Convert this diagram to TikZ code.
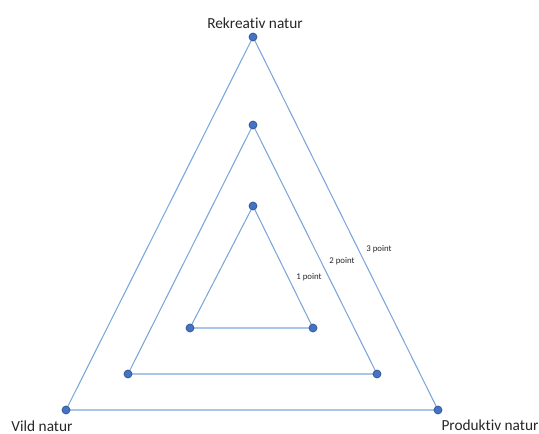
\documentclass[tikz,border=0pt]{standalone}
\usepackage{fontspec}
\setmainfont{Carlito}[Ligatures={NoCommon,NoRare,NoDiscretionary}]
\definecolor{edgeblue}{HTML}{7DA7D9}
\definecolor{dotfill}{HTML}{4472C4}
\definecolor{dotline}{HTML}{2F528F}
\begin{document}
\begin{tikzpicture}[x=0.75pt,y=-0.75pt,
  dot/.style={circle,fill=dotfill,draw=dotline,line width=0.5pt,inner sep=0pt,minimum size=6pt},
  edge/.style={draw=edgeblue,line width=0.8pt},
  biglabel/.style={font=\fontsize{11.5}{13}\selectfont,text=black!85,inner sep=0pt},
  smalllabel/.style={font=\fontsize{6.6}{8}\selectfont,text=black!85,inner sep=0pt}]
\useasboundingbox (0,0) rectangle (539,434);
% outer
\coordinate (o1) at (253,37);
\coordinate (o2) at (66,410);
\coordinate (o3) at (438,410);
% middle
\coordinate (m1) at (253,125);
\coordinate (m2) at (128,374);
\coordinate (m3) at (377,374);
% inner
\coordinate (i1) at (253,206);
\coordinate (i2) at (190,328);
\coordinate (i3) at (313,328);
\path[edge] (o1) -- (o3) -- (o2) -- cycle;
\path[edge] (m1) -- (m3) -- (m2) -- cycle;
\path[edge] (i1) -- (i3) -- (i2) -- cycle;
\foreach \n in {o1,o2,o3,m1,m2,m3,i1,i2,i3}{\node[dot] (d\n) at (\n) {};}
\node[biglabel] (lr) at (255,23) {Rekreativ natur};
\node[biglabel] (lv) at (42,426) {Vild natur};
\node[biglabel] (lp) at (490,425) {Produktiv natur};
\node[smalllabel] (l3) at (379,249) {3 point};
\node[smalllabel] (l2) at (342,261) {2 point};
\node[smalllabel] (l1) at (309,277) {1 point};
\end{tikzpicture}
\end{document}
